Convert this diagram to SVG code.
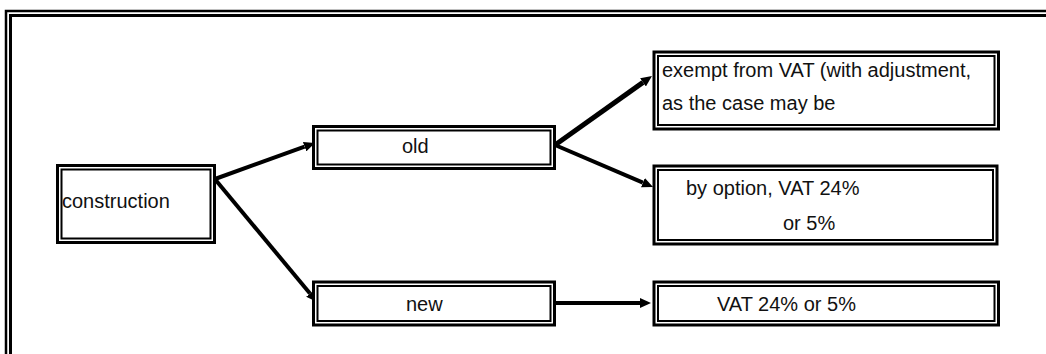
<svg xmlns="http://www.w3.org/2000/svg" width="1046" height="354" viewBox="0 0 1046 354">
  <style>
    .frame { fill: none; stroke: #000; }
    .outer { fill: #fff; stroke: #000; stroke-width: 3; }
    .inner { fill: none; stroke: #000; stroke-width: 2; }
    .label { font-family: "Liberation Sans", Arial, sans-serif; font-size: 20px; fill: #111; }
    .edge { fill: none; stroke: #000; stroke-width: 4; marker-end: url(#head); }
  </style>
  <defs>
    <marker id="head" viewBox="0 0 11 10" markerWidth="11" markerHeight="10" refX="0" refY="5" orient="auto" markerUnits="userSpaceOnUse">
      <path d="M0,0 L11,5 L0,10 z" fill="#000"/>
    </marker>
  </defs>

  <rect width="1046" height="354" fill="#fff"/>

  <!-- page frame: double rule along the top and left -->
  <g id="frame">
    <path class="frame" stroke-width="2.5" d="M6,354 V11 H1046"/>
    <path class="frame" stroke-width="3" d="M10.5,354 V15.5 H1046"/>
  </g>

  <g id="connectors">
    <line class="edge" x1="215" y1="179" x2="304.6" y2="146.7"/>
    <line class="edge" x1="214" y1="178" x2="310" y2="293.5"/>
    <line class="edge" x1="555" y1="145" x2="643" y2="82.4" style="stroke-width:5"/>
    <line class="edge" x1="555" y1="145" x2="642.9" y2="182.7"/>
    <line class="edge" x1="548" y1="303" x2="640" y2="303"/>
  </g>

  <g id="construction">
    <rect class="outer" x="57.5" y="165.5" width="157" height="77"/>
    <rect class="inner" x="61.5" y="169.5" width="149" height="69"/>
    <text class="label" x="62" y="208">construction</text>
  </g>

  <g id="old">
    <rect class="outer" x="313.5" y="126.5" width="241" height="42"/>
    <rect class="inner" x="317.5" y="130.5" width="233" height="34"/>
    <text class="label" x="402" y="153">old</text>
  </g>

  <g id="new">
    <rect class="outer" x="313.5" y="282" width="241" height="43"/>
    <rect class="inner" x="317.5" y="286" width="233" height="35"/>
    <text class="label" x="406" y="311">new</text>
  </g>

  <g id="exempt">
    <rect class="outer" x="654" y="52" width="344.5" height="77"/>
    <rect class="inner" x="658" y="56" width="336.5" height="69"/>
    <text class="label" x="662" y="77">exempt from VAT (with adjustment,</text>
    <text class="label" x="662" y="110">as the case may be</text>
  </g>

  <g id="option">
    <rect class="outer" x="654" y="166" width="343" height="78"/>
    <rect class="inner" x="658" y="170" width="335" height="70"/>
    <text class="label" x="686" y="195">by option, VAT 24%</text>
    <text class="label" x="783" y="230">or 5%</text>
  </g>

  <g id="vat">
    <rect class="outer" x="654" y="282" width="344.5" height="43"/>
    <rect class="inner" x="658" y="286" width="336.5" height="35"/>
    <text class="label" x="717" y="311">VAT 24% or 5%</text>
  </g>
</svg>
